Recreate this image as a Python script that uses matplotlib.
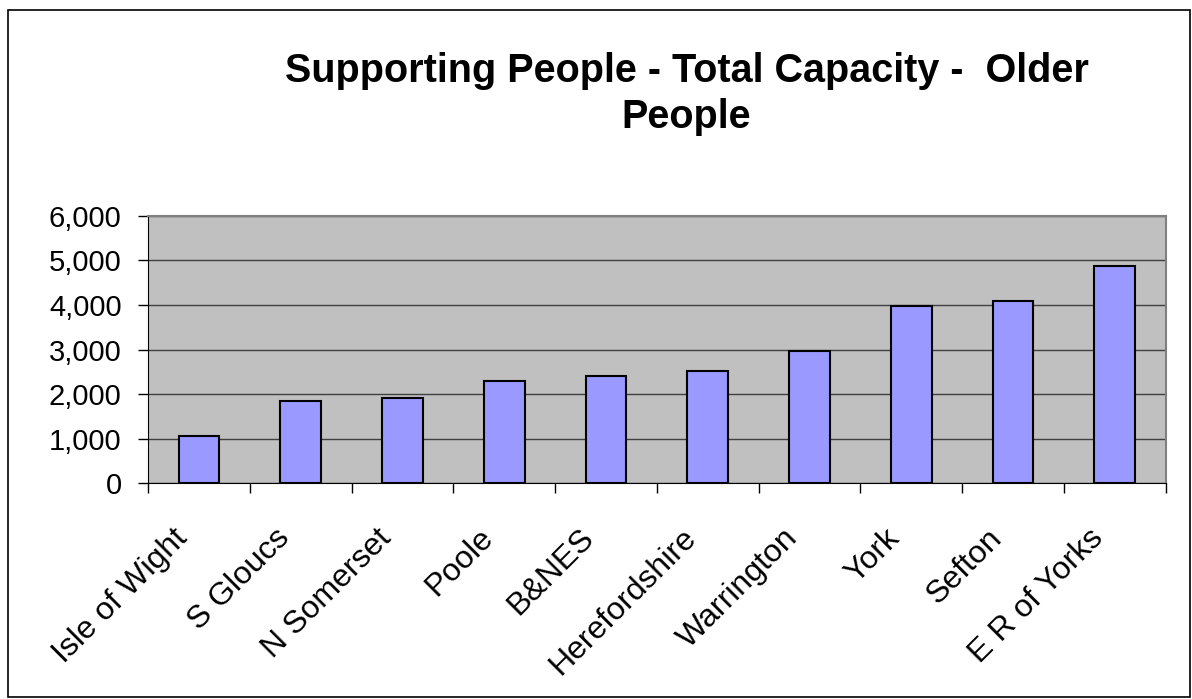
import matplotlib.pyplot as plt
from matplotlib.ticker import FuncFormatter, FixedLocator
from matplotlib.patches import Rectangle

plt.rcParams['font.family'] = ['Liberation Sans', 'DejaVu Sans']

# 데이터
areas = ["Isle of Wight", "S Gloucs", "N Somerset", "Poole", "B&NES",
         "Herefordshire", "Warrington", "York", "Sefton", "E R of Yorks"]
capacity = [1065, 1850, 1910, 2290, 2410, 2520, 2970, 3980, 4090, 4870]

fig = plt.figure(figsize=(11.92, 6.99), dpi=100)
# 바깥 테두리
fig.patches.append(Rectangle((8/1192, 2/699), 1182/1192, 687/699, transform=fig.transFigure,
                             fill=False, edgecolor="black", linewidth=1.2))

ax = fig.add_axes([0.1242, 0.3083, 0.8537, 0.3831])
ax.set_facecolor("#C0C0C0")
x = range(len(areas))
ax.bar(x, capacity, width=0.4, color="#9999FF", edgecolor="black", linewidth=1.5, zorder=3)

ax.set_xlim(-0.5, len(areas) - 0.5)
ax.set_ylim(0, 6000)
ax.set_yticks(range(0, 6001, 1000))
ax.yaxis.set_major_formatter(FuncFormatter(lambda v, p: f"{int(v):,}"))
ax.grid(axis="y", color="#404040", linewidth=1, zorder=1)
ax.set_axisbelow(True)

# x 눈금: 카테고리 경계에
ax.xaxis.set_major_locator(FixedLocator([i - 0.5 for i in range(len(areas) + 1)]))
ax.xaxis.set_major_formatter(FuncFormatter(lambda v, p: ""))
ax.tick_params(axis="x", which="major", length=7, width=1, color="black", direction="out")
ax.tick_params(axis="y", length=7, width=1, color="black", labelsize=21, pad=12)

# 카테고리 이름 (45도 기울이기)
for i, name in enumerate(areas):
    ax.annotate(name, xy=(i, 0), xycoords=("data", "axes fraction"),
                xytext=(-11.5, -36), textcoords="offset points",
                rotation=45, ha="right", va="center", rotation_mode="anchor",
                fontsize=23, annotation_clip=False)

for s in ["top", "right"]:
    ax.spines[s].set_color("#808080")
    ax.spines[s].set_linewidth(1.5)
ax.spines["left"].set_color("black")
ax.spines["bottom"].set_color("black")

fig.text(686.5/1192, 1 - 82/699, "Supporting People - Total Capacity -  Older",
         ha="center", va="baseline", fontsize=28.5, fontweight="bold")
fig.text(686.5/1192, 1 - 128/699, "People",
         ha="center", va="baseline", fontsize=28.5, fontweight="bold")

plt.savefig("out.png", dpi=100)
